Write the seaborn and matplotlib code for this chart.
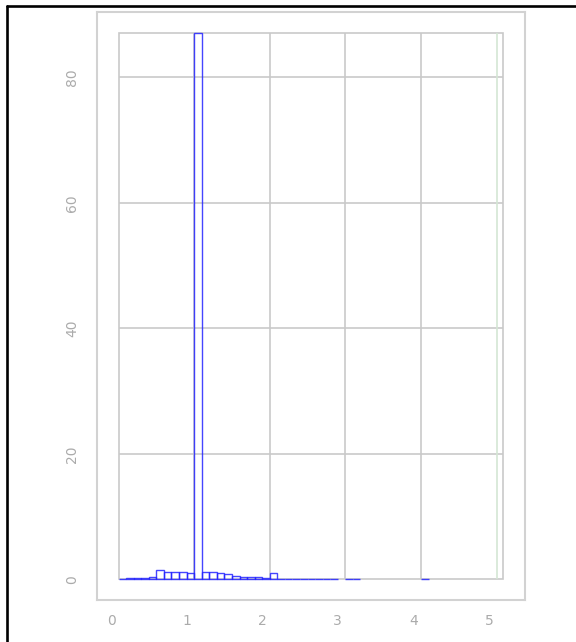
import matplotlib
matplotlib.use("Agg")
import matplotlib.pyplot as plt
import matplotlib.patches as mpatches
import matplotlib.lines as mlines
import numpy as np
import pandas as pd
import seaborn as sns

sns.set_style("white")
plt.rcParams["font.family"] = ["DejaVu Sans"]

# Histogram bins (left edges, width 0.1) and their heights
bin_left = [0.1, 0.2, 0.3, 0.4, 0.5, 0.6, 0.7, 0.8, 0.9, 1.0,
            1.1, 1.2, 1.3, 1.4, 1.5, 1.6, 1.7, 1.8, 1.9, 2.0,
            2.1, 2.2, 2.3, 2.4, 2.5, 2.6, 2.7, 2.8, 2.9,
            3.1, 3.2, 4.1]
counts = [0.1, 0.2, 0.2, 0.2, 0.3, 1.5, 1.1, 1.1, 1.1, 0.95,
          87.1, 1.1, 1.1, 0.95, 0.8, 0.6, 0.3, 0.3, 0.3, 0.2,
          0.95, 0.1, 0.1, 0.1, 0.1, 0.1, 0.1, 0.1, 0.1,
          0.1, 0.1, 0.1]
bin_width = 0.1
x_range = (0.1, 5.19)

x_ticks = [0, 1, 2, 3, 4, 5]
y_ticks = [0, 20, 40, 60, 80]
x_grid = [1.1, 2.1, 3.1, 4.1, 5.1]
y_grid = [20, 40, 60, 80]

df = pd.DataFrame({"x": np.array(bin_left) + bin_width / 2, "w": counts})

W, H = 576, 642
fig = plt.figure(figsize=(W / 100, H / 100), dpi=100)
fig.patch.set_facecolor("white")

# axes frame in pixel coordinates
L, R, T, B = 97, 525, 12, 600
ax = fig.add_axes([L / W, 1 - B / H, (R - L) / W, (B - T) / H])

# pixel scale: x = 111 + 75.6*v ; y = 579.3 - 6.275*v
px_x0, sx = 111.0, 75.6
px_y0, sy = 579.3, 6.275
ax.set_xlim((L - px_x0) / sx, (R - px_x0) / sx)
ax.set_ylim((px_y0 - B) / sy, (px_y0 - T) / sy)

ymax = max(counts)
grid_col = "#c9c9c9"

# inner data box and grid
ax.add_patch(mpatches.Rectangle((x_range[0], 0), x_range[1] - x_range[0], ymax,
                                fill=False, edgecolor=grid_col, lw=1.2, zorder=1))
ax.hlines(y_grid, x_range[0], x_range[1], color=grid_col, lw=1.2, zorder=1)
ax.vlines(x_grid[:-1], 0, ymax, color=grid_col, lw=1.2, zorder=1)
ax.vlines(x_grid[-1:], 0, ymax, color="#d4e6d4", lw=1.2, zorder=1)

n_before = len(ax.patches)
sns.histplot(data=df, x="x", weights="w", binwidth=bin_width,
             binrange=(0.1, 4.2), fill=False, element="bars",
             color="#2424ff", linewidth=1.0, alpha=0.85, ax=ax, zorder=3)
# empty bins are not drawn
for p in ax.patches[n_before:]:
    if p.get_height() == 0:
        p.set_visible(False)

ax.set_xlabel("")
ax.set_ylabel("")
ax.set_xticks(x_ticks)
ax.set_yticks(y_ticks)
ax.set_xticklabels([str(t) for t in x_ticks])
ax.set_yticklabels([str(t) for t in y_ticks], rotation=90, va="center")
ax.tick_params(axis="both", length=0, colors="#ababab", labelsize=10)
ax.tick_params(axis="y", pad=13)
ax.tick_params(axis="x", pad=10)
for s in ax.spines.values():
    s.set_color("#d2d2d2")
    s.set_linewidth(1.5)

# black border around the figure area
fig.add_artist(mlines.Line2D([7 / W, 7 / W], [0, 1 - 6 / H], color="black",
                             lw=1.9, transform=fig.transFigure))
fig.add_artist(mlines.Line2D([7 / W, 1], [1 - 6 / H, 1 - 6 / H], color="black",
                             lw=1.9, transform=fig.transFigure))

fig.savefig("out.png", dpi=100)
